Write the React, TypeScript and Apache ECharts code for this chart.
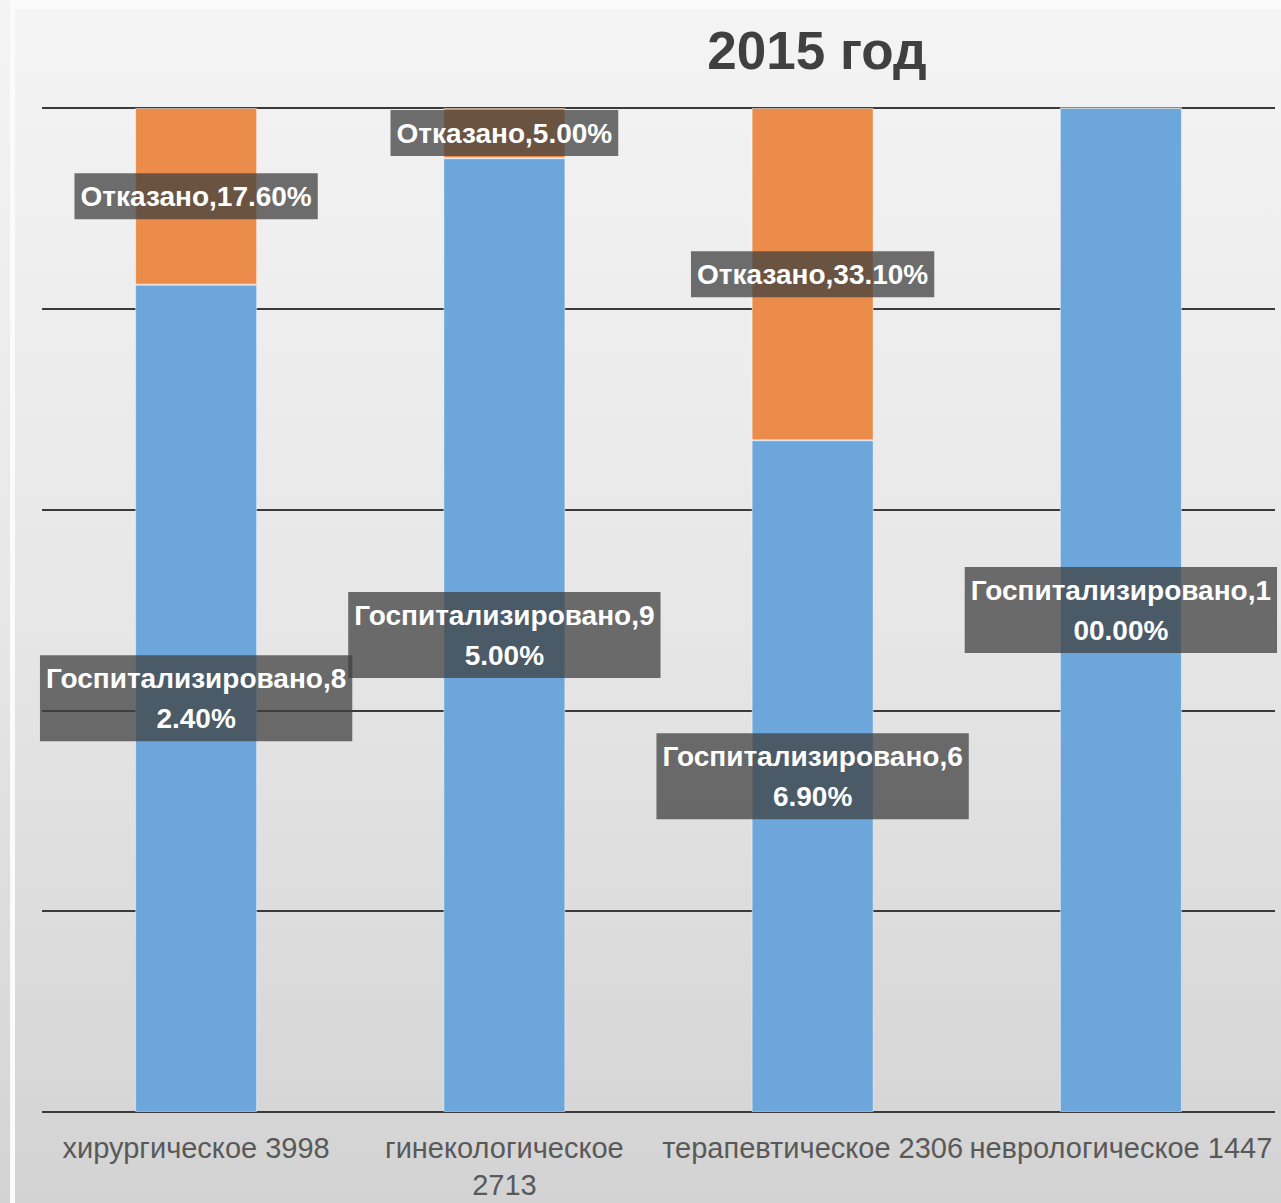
import React, { useEffect, useRef } from "react";
import * as echarts from "echarts";

const titleText = "2015 год";
const departments = ["хирургическое 3998", "гинекологическое\n2713", "терапевтическое 2306", "неврологическое 1447"];
const hospitalized = [82.4, 95.0, 66.9, 100.0];
const refused = [17.6, 5.0, 33.1, 0];
const seriesNames = ["Госпитализировано", "Отказано"];
const yTicks = [0, 20, 40, 60, 80, 100];

const LINE_CHARS = 19;
const FONT = "'Liberation Sans', Arial, sans-serif";

function labelFormatter(p: any) {
  const s = p.seriesName + "," + Number(p.value).toFixed(2) + "%";
  return s.length > LINE_CHARS ? s.slice(0, LINE_CHARS) + "\n" + s.slice(LINE_CHARS) : s;
}

const labelStyle = {
  show: true,
  position: "inside",
  formatter: labelFormatter,
  color: "#ffffff",
  fontWeight: "bold",
  fontSize: 28,
  fontFamily: FONT,
  lineHeight: 40,
  backgroundColor: "rgba(64,64,64,0.75)",
  padding: [3, 6],
};

export default function App() {
  const ref = useRef<HTMLDivElement>(null);
  useEffect(() => {
    if (!ref.current) return;
    const chart = echarts.init(ref.current, null, { renderer: "svg" });
    const bg = new echarts.graphic.LinearGradient(0, 0, 0, 1, [
      { offset: 0, color: "#f4f4f4" },
      { offset: 0.5, color: "#e7e7e7" },
      { offset: 1, color: "#d3d3d3" },
    ]);
    chart.setOption({
      animation: false,
      graphic: [
        { type: "rect", z: -100, silent: true, shape: { x: 0, y: 0, width: 1281, height: 1203 }, style: { fill: "#fbfbfb" } },
        { type: "rect", z: -99, silent: true, shape: { x: 0, y: 0, width: 10, height: 1203 }, style: { fill: bg } },
        { type: "rect", z: -99, silent: true, shape: { x: 15, y: 9, width: 1266, height: 1194 }, style: { fill: bg } },
        {
          type: "text",
          z: 10,
          x: 817,
          y: 50,
          style: {
            text: titleText,
            fill: "#404040",
            font: `bold 53px ${FONT}`,
            textAlign: "center",
            textVerticalAlign: "middle",
          },
        },
      ],
      grid: { left: 42, right: 6, top: 108, bottom: 84, containLabel: false },
      xAxis: {
        type: "category",
        data: departments,
        axisLine: { show: false },
        axisTick: { show: false },
        axisLabel: {
          interval: 0,
          color: "#595959",
          fontSize: 29,
          fontFamily: FONT,
          lineHeight: 37,
          margin: 17,
        },
      },
      yAxis: {
        type: "value",
        min: yTicks[0],
        max: yTicks[yTicks.length - 1],
        interval: yTicks[1] - yTicks[0],
        axisLabel: { show: false },
        axisLine: { show: false },
        axisTick: { show: false },
        splitLine: { lineStyle: { color: "#3a3a3a", width: 2 } },
      },
      series: [
        {
          name: seriesNames[0],
          type: "bar",
          stack: "total",
          barWidth: 122,
          itemStyle: { color: "#6ca6da", borderColor: "rgba(255,255,255,0.45)", borderWidth: 1 },
          label: labelStyle,
          data: hospitalized.map((v) => ({ value: v, label: { show: v > 0 } })),
        },
        {
          name: seriesNames[1],
          type: "bar",
          stack: "total",
          barWidth: 122,
          itemStyle: { color: "#ec8c4a", borderColor: "rgba(255,255,255,0.45)", borderWidth: 1 },
          label: labelStyle,
          data: refused.map((v) => ({ value: v, label: { show: v > 0 } })),
        },
      ],
    });
    return () => chart.dispose();
  }, []);
  return <div ref={ref} style={{ position: "absolute", left: 0, top: 0, width: 1281, height: 1203 }} />;
}
